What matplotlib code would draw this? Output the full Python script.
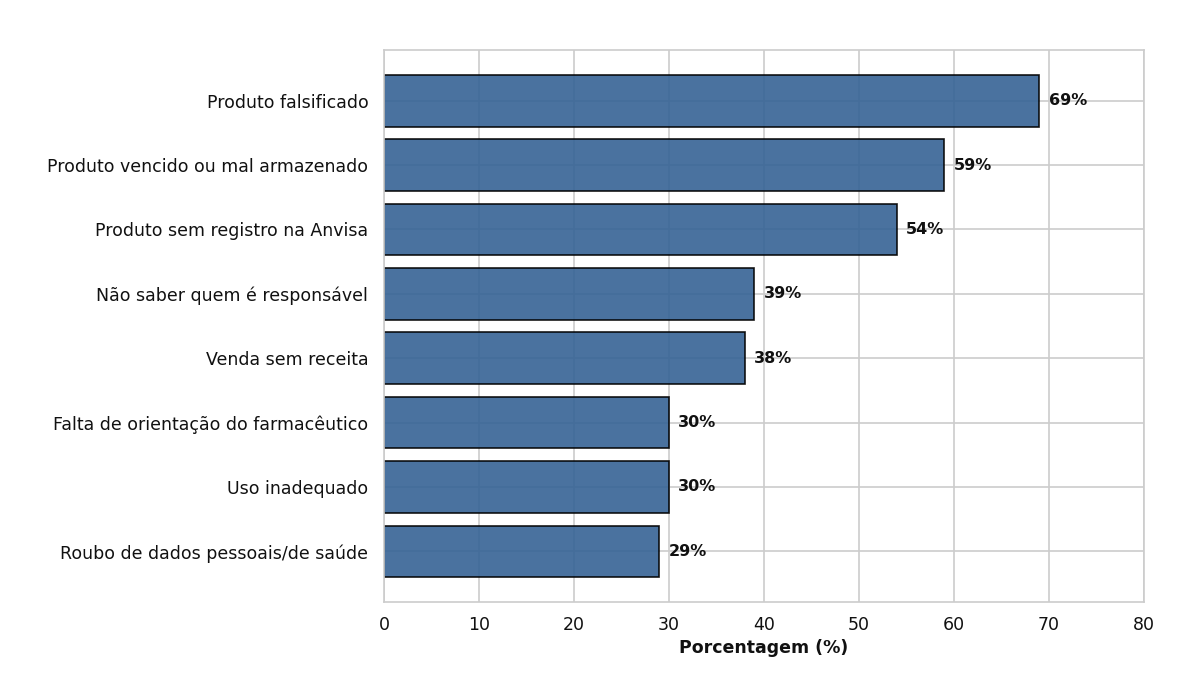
import numpy as np
import matplotlib.pyplot as plt
import seaborn as sns

categorias = ['Produto falsificado', 'Produto vencido ou mal armazenado',
              'Produto sem registro na Anvisa', 'Não saber quem é responsável',
              'Venda sem receita', 'Falta de orientação do farmacêutico',
              'Uso inadequado', 'Roubo de dados pessoais/de saúde']
valores = [69, 59, 54, 39, 38, 30, 30, 29]

sns.set_style('whitegrid')
plt.rcParams['font.family'] = ['DejaVu Sans']

fig = plt.figure(figsize=(12, 6.75), dpi=100)
ax = fig.add_axes([0.32, 0.108, 0.633, 0.818])

y = np.arange(len(categorias))
ax.barh(y, valores, height=0.8, color='#366395', alpha=0.9,
        edgecolor='black', linewidth=1.2)
ax.invert_yaxis()
ax.set_yticks(y)
ax.set_yticklabels(categorias, fontsize=12.5, color='#111111')
ax.set_xlim(0, 80)
ax.tick_params(axis='x', labelsize=12.5, labelcolor='#111111', pad=6.4)
ax.tick_params(axis='y', pad=7.8)
ax.set_xlabel('Porcentagem (%)', fontsize=12.5, fontweight='bold',
              color='#111111', labelpad=3.8)
ax.grid(True, color='#cccccc', linewidth=1.2)

for yi, v in zip(y, valores):
    ax.text(v + 1, yi, f'{v}%', va='center', ha='left',
            fontsize=11.5, fontweight='bold', color='#111111')

for s in ax.spines.values():
    s.set_color('#cccccc')
    s.set_linewidth(1.2)

plt.savefig('out.png', dpi=100)
